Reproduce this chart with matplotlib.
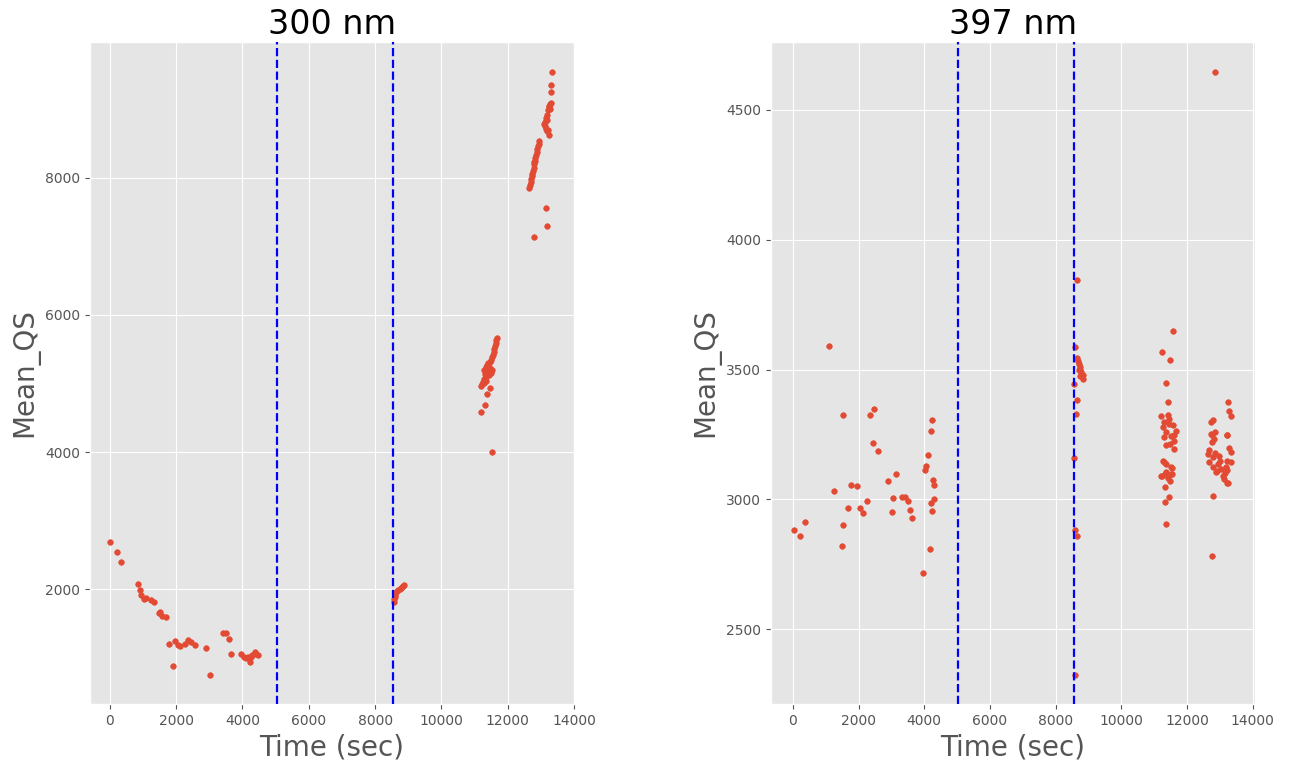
import matplotlib
matplotlib.use("Agg")
import matplotlib.pyplot as plt

plt.style.use("ggplot")

# ---- 300 nm ----
t300 = [0, 200, 350, 860, 900, 950, 1020, 1100, 1240, 1340, 1480, 1515, 1565, 1680,
        1770, 1890, 1960, 2040, 2120, 2270, 2360, 2450, 2580, 2900, 3030, 3410, 3500,
        3590, 3640, 3970, 4050, 4120, 4170, 4220, 4270, 4300, 4370, 4420, 4470,
        8560, 8570, 8590, 8610, 8630, 8660, 8700, 8740, 8780, 8820, 8850, 8880,
        11676, 11660, 11640, 11620, 11600, 11580, 11560, 11540, 11500, 11460, 11420,
        11380, 11350, 11400, 11480, 11520, 11450, 11390, 11320, 11300, 11360, 11440,
        11500, 11280, 11250, 11220, 11200, 11300, 11340, 11466, 11385, 11315, 11204,
        11536,
        12640, 12660, 12690, 12700, 12720, 12740, 12760, 12780, 12800, 12810, 12840,
        12860, 12880, 12900, 12920, 12940, 12958, 12786,
        13090, 13120, 13160, 13200, 13260, 13230, 13200, 13150, 13180, 13220, 13250,
        13280, 13300, 13260, 13300, 13310, 13331, 13290, 13120,
        13159, 13200, 12806]
v300 = [2680, 2540, 2400, 2080, 1985, 1915, 1855, 1875, 1835, 1810, 1650, 1665, 1610, 1585,
        1200, 880, 1235, 1190, 1170, 1205, 1250, 1230, 1190, 1140, 745, 1365, 1360,
        1270, 1050, 1045, 1015, 1000, 1010, 935, 1010, 1035, 1075, 1050, 1040,
        1810, 1850, 1880, 1920, 1950, 1970, 1985, 1995, 2010, 2030, 2045, 2065,
        5670, 5630, 5590, 5540, 5500, 5460, 5420, 5390, 5350, 5320, 5300,
        5270, 5240, 5220, 5230, 5200, 5180, 5160, 5140, 5200, 5100, 5120,
        5150, 5060, 5020, 4990, 4960, 5000, 5030, 4934, 4842, 4691, 4584,
        4000,
        7860, 7900, 7940, 7990, 8030, 8060, 8100, 8150, 8200, 8240, 8290,
        8330, 8380, 8420, 8460, 8500, 8545, 8229,
        8790, 8760, 8720, 8680, 8630, 8700, 8850, 8880, 8920, 8990, 9030,
        9080, 9100, 9050, 9260, 9360, 9543, 9000, 8820,
        7567, 7304, 7144]

# ---- 397 nm ----
t397 = [1110, 1530, 2360, 2470, 2430, 2580, 4220, 4200, 4100, 4060, 4010, 3140, 2900,
        4270, 4290, 1780, 1960, 1260, 2270, 3060, 3320, 3420, 3490, 4310, 4210, 1680,
        2030, 2120, 3020, 3580, 4250, 3630, 370, 20, 230, 1520, 1480, 4160, 3960,
        8586, 8636, 8566, 8636, 8616, 8556, 8596, 8646, 8580,
        8660, 8687, 8710, 8730, 8750, 8770, 8790, 8810, 8838, 8700, 8750, 8820,
        11575, 11242, 11495, 11373, 11414, 11211, 11414, 11464, 11262, 11565, 11666,
        11363, 11515, 11313, 11616, 11363, 11616, 11262, 11363, 11515, 11363, 11211,
        11515, 11414, 11303, 11333, 11545, 11232, 11545, 11495, 11333, 11444, 11333,
        11363, 11440, 11590, 11300, 11480,
        13254, 13284, 13333, 12777, 12726, 13211, 12726, 12827, 12746, 13284, 13333,
        12676, 12625, 12777, 12979, 13231, 12676, 12929, 13333, 12777, 13030, 13181,
        12878, 13080, 13231, 13131, 13231, 13202, 12838, 12747, 13242, 12797, 12757,
        12838, 12900, 13000, 12860, 13150]
v397 = [3590, 3327, 3324, 3347, 3219, 3185, 3305, 3264, 3172, 3128, 3113, 3099, 3073,
        3074, 3056, 3054, 3051, 3032, 2995, 3005, 3008, 3009, 2995, 3000, 2988, 2967,
        2969, 2947, 2951, 2959, 2955, 2927, 2912, 2882, 2858, 2903, 2821, 2808, 2717,
        3588, 3846, 3446, 3383, 3328, 3160, 2883, 2859, 2323,
        3545, 3535, 3520, 3510, 3500, 3490, 3480, 3470, 3462, 3500, 3475, 3480,
        3650, 3568, 3538, 3449, 3374, 3323, 3327, 3310, 3278, 3285, 3265,
        3259, 3246, 3240, 3227, 3208, 3195, 3150, 3137, 3124, 3105, 3092,
        3099, 3083, 3144, 3099, 3122, 3092, 3099, 3071, 3047, 3008, 2991,
        2905, 3290, 3250, 3300, 3215,
        3377, 3340, 3323, 3307, 3297, 3249, 3253, 3233, 3220, 3199, 3182,
        3191, 3176, 3163, 3169, 3150, 3143, 3137, 3143, 3124, 3118, 3124,
        3105, 3092, 3112, 3080, 3063, 3247, 3259, 3247, 3064, 3013, 2782,
        4645, 3110, 3150, 3180, 3100]

vlines = [5030, 8550]

fig, (ax1, ax2) = plt.subplots(1, 2, figsize=(12.95, 7.62), dpi=100)
fig.subplots_adjust(left=0.0695, right=0.969, top=0.945, bottom=0.076, wspace=0.407)

panels = [(ax1, t300, v300, "300 nm", (-600, 14000), (321, 9985), [2000, 4000, 6000, 8000]),
          (ax2, t397, v397, "397 nm", (-670, 14065), (2212, 4762), [2500, 3000, 3500, 4000, 4500])]
for ax, t, v, title, xl, yl, yt in panels:
    ax.scatter(t, v, s=16, color="#E24A33", zorder=2)
    for x in vlines:
        ax.axvline(x, color="blue", ls="--", lw=1.6, zorder=3)
    ax.set_xlim(*xl)
    ax.set_ylim(*yl)
    ax.set_xticks(range(0, 14001, 2000))
    ax.set_yticks(yt)
    ax.set_title(title, fontsize=24, color="black")
    ax.set_xlabel("Time (sec)", fontsize=20)
    ax.set_ylabel("Mean_QS", fontsize=20)

fig.savefig("out.png", dpi=100)
